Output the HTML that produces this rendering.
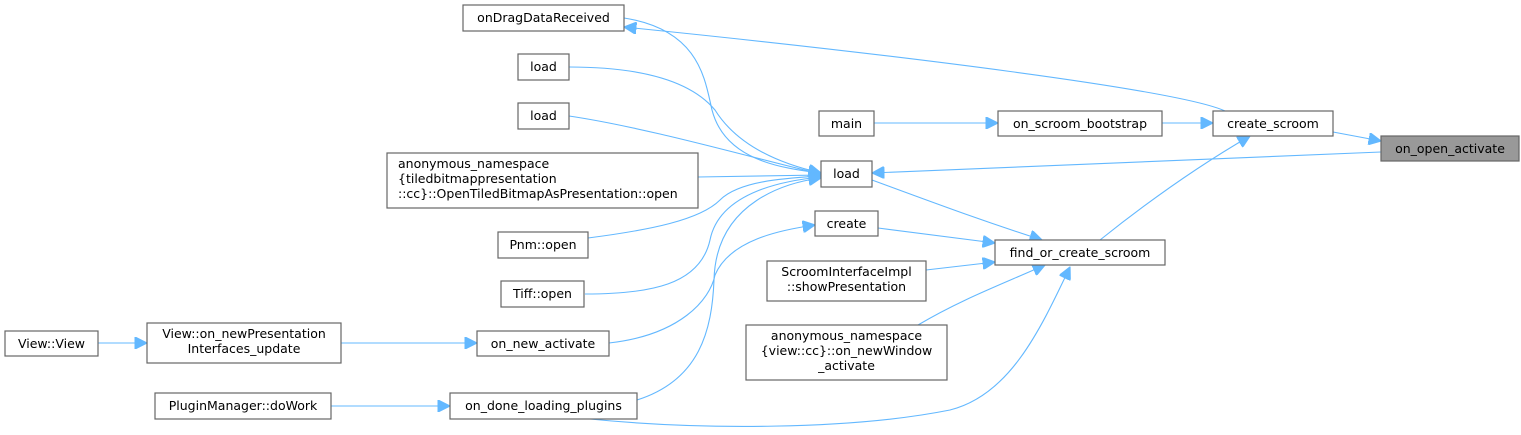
<!DOCTYPE html>
<html><head><meta charset="utf-8"><style>
html,body{margin:0;padding:0;background:#fff}
svg{display:block}
text{font-family:"DejaVu Sans","Liberation Sans",sans-serif;font-size:12.5px;fill:#000}
.b{fill:#fff;stroke:#666;stroke-width:1.2}
.e{fill:none;stroke:#63b8ff;stroke-width:1.1}
.a{fill:#63b8ff;stroke:#63b8ff}
</style></head><body>
<svg width="1521" height="435" viewBox="0 0 1521 435" xmlns="http://www.w3.org/2000/svg">
<defs><marker id="m" viewBox="0 0 10 10" refX="10" refY="5" markerWidth="13" markerHeight="12" markerUnits="userSpaceOnUse" orient="auto"><path d="M0,0L10,5L0,10z" class="a"/></marker></defs>
<g class="e" marker-end="url(#m)">
<path d="M1225,111 C1180,90 900,55 624,27"/>
<path d="M624,18 C700,30 705,80 712,110 C725,160 780,168 821,173"/>
<path d="M569,67 C640,67 690,80 715,110 C740,150 790,166 821,173"/>
<path d="M569,116 C650,128 760,160 821,174"/>
<path d="M698,177 L821,175"/>
<path d="M588,238 C650,230 700,220 720,200 C740,180 790,178 821,176"/>
<path d="M585,294 C650,294 700,285 710,240 C720,190 790,180 821,177"/>
<path d="M637,400 C700,380 712,330 714,280 C716,200 790,182 821,178"/>
<path d="M1381,152 L872,173"/>
<path d="M874,123 L998,123"/>
<path d="M1162,123 L1213,123"/>
<path d="M1333,132 L1381,141"/>
<path d="M609,343 C680,335 710,300 715,275 C730,240 780,230 815,225"/>
<path d="M872,180 C940,205 980,220 1042,240"/>
<path d="M878,228 L995,243"/>
<path d="M926,270 L995,262"/>
<path d="M918,325 C960,300 1000,285 1045,265"/>
<path d="M590,419 C700,430 850,430 950,410 C1010,395 1040,330 1070,267"/>
<path d="M1100,240 C1150,200 1200,165 1250,136"/>
<path d="M98,343 L147,343"/>
<path d="M341,343 L477,343"/>
<path d="M331,406 L450,406"/>
</g>
<rect class="b" x="463" y="5" width="161" height="26"/><text x="543.5" y="22" text-anchor="middle">onDragDataReceived</text>
<rect class="b" x="518" y="54" width="51" height="26"/><text x="543.5" y="71" text-anchor="middle">load</text>
<rect class="b" x="518" y="103" width="51" height="26"/><text x="543.5" y="120" text-anchor="middle">load</text>
<rect class="b" x="387" y="153" width="311" height="55"/>
<text x="398" y="168">anonymous_namespace</text><text x="398" y="183">{tiledbitmappresentation</text><text x="398" y="198">::cc}::OpenTiledBitmapAsPresentation::open</text>
<rect class="b" x="498" y="232" width="90" height="26"/><text x="543" y="249" text-anchor="middle">Pnm::open</text>
<rect class="b" x="501" y="281" width="83" height="26"/><text x="542.5" y="298" text-anchor="middle">Tiff::open</text>
<rect class="b" x="5" y="331" width="93" height="25"/><text x="51.5" y="348" text-anchor="middle">View::View</text>
<rect class="b" x="147" y="323" width="194" height="40"/><text x="244" y="338" text-anchor="middle">View::on_newPresentation</text><text x="244" y="353" text-anchor="middle">Interfaces_update</text>
<rect class="b" x="477" y="331" width="132" height="25"/><text x="543" y="348" text-anchor="middle">on_new_activate</text>
<rect class="b" x="155" y="393" width="176" height="26"/><text x="243" y="410" text-anchor="middle">PluginManager::doWork</text>
<rect class="b" x="450" y="393" width="187" height="26"/><text x="543.5" y="410" text-anchor="middle">on_done_loading_plugins</text>
<rect class="b" x="819" y="111" width="55" height="25"/><text x="846.5" y="128" text-anchor="middle">main</text>
<rect class="b" x="998" y="111" width="164" height="25"/><text x="1080" y="128" text-anchor="middle">on_scroom_bootstrap</text>
<rect class="b" x="1213" y="111" width="120" height="25"/><text x="1273" y="128" text-anchor="middle">create_scroom</text>
<rect x="1381" y="136" width="138" height="25" fill="#999" stroke="#666" stroke-width="1.2"/><text x="1450" y="153" text-anchor="middle">on_open_activate</text>
<rect class="b" x="821" y="161" width="51" height="26"/><text x="846.5" y="178" text-anchor="middle">load</text>
<rect class="b" x="815" y="211" width="63" height="25"/><text x="846.5" y="228" text-anchor="middle">create</text>
<rect class="b" x="995" y="240" width="170" height="25"/><text x="1080" y="257" text-anchor="middle">find_or_create_scroom</text>
<rect class="b" x="767" y="261" width="159" height="40"/><text x="846.5" y="276" text-anchor="middle">ScroomInterfaceImpl</text><text x="846.5" y="291" text-anchor="middle">::showPresentation</text>
<rect class="b" x="746" y="325" width="201" height="55"/><text x="846.5" y="340" text-anchor="middle">anonymous_namespace</text><text x="846.5" y="355" text-anchor="middle">{view::cc}::on_newWindow</text><text x="846.5" y="370" text-anchor="middle">_activate</text>
</svg>
</body></html>
